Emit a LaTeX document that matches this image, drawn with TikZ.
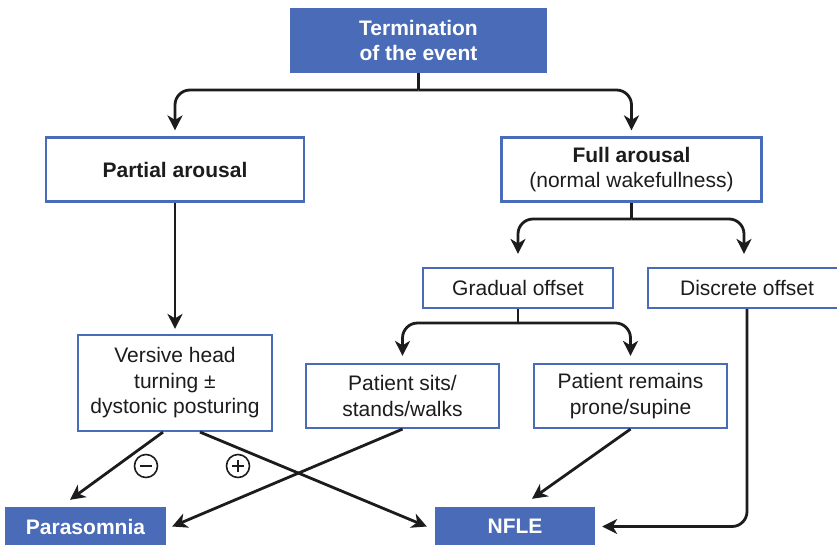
\documentclass[tikz,border=0pt]{standalone}
\usepackage{fontspec}
\setmainfont{Liberation Sans}
\usetikzlibrary{arrows.meta,calc}
\definecolor{boxblue}{RGB}{74,107,183}
\definecolor{ink}{RGB}{28,28,28}
\begin{document}
\begin{tikzpicture}[x=1pt,y=-1pt,
  every node/.style={font=\fontsize{21}{25.5}\selectfont, text=ink, align=center, inner sep=0pt},
  outcome/.style={rectangle, fill=boxblue, text=white, font=\fontsize{21}{25.5}\selectfont\bfseries},
  stage/.style={rectangle, draw=boxblue, line width=2.2pt, fill=white},
  link/.style={draw=ink, line width=2.8pt},
  arrow/.style={link, -{Stealth[length=15pt,width=15pt,inset=4.5pt]}},
  sign/.style={circle, draw=ink, line width=1.6pt, minimum size=23pt},
  bar/.style={draw=ink, line width=2.8pt}]
\useasboundingbox (0,0) rectangle (837,544);

% boxes
\node[outcome, minimum width=257pt, minimum height=65pt] (term) at (418.5,40.5) {Termination\\of the event};
\node[stage, minimum width=258pt, minimum height=64pt, font=\fontsize{21}{25.5}\selectfont\bfseries] (partial) at (175,169.5) {Partial arousal};
\node[stage, minimum width=260pt, minimum height=64pt] (full) at (631.5,169.5) {\textbf{Full arousal}\\(normal wakefullness)};
\node[stage, minimum width=190pt, minimum height=40pt] (gradual) at (518,288) {Gradual offset};
\node[stage, minimum width=198pt, minimum height=40pt] (discrete) at (747,288) {Discrete offset};
\node[stage, minimum width=194pt, minimum height=96pt] (versive) at (175,383) {Versive head\\turning ±\\dystonic posturing};
\node[stage, minimum width=193pt, minimum height=64pt] (sits) at (402.5,396) {Patient sits/\\stands/walks};
\node[stage, minimum width=193pt, minimum height=64pt] (remains) at (630.5,396) {Patient remains\\prone/supine};
\node[outcome, minimum width=161pt, minimum height=39pt] (para) at (85.5,526.5) {Parasomnia};
\node[outcome, minimum width=160pt, minimum height=39pt] (nfle) at (515,526.5) {NFLE};

% branching from the termination box
\coordinate (j1) at (418.5,90);
\draw[link] (term.south) -- (j1);
\draw[arrow, rounded corners=15pt] (j1) -| ([yshift=6pt]partial.north);
\draw[arrow, rounded corners=15pt] (j1) -| ([yshift=6pt]full.north);

% branching from full arousal
\coordinate (j2) at (631.5,219);
\draw[link] (full.south) -- (j2);
\draw[arrow, rounded corners=15pt] (j2) -| ([yshift=13pt]gradual.north);
\draw[arrow, rounded corners=15pt] (j2) -| ([xshift=-3pt,yshift=13pt]discrete.north);

% branching from gradual offset
\coordinate (j3) at (518,323);
\draw[link] (gradual.south) -- (j3);
\draw[arrow, rounded corners=15pt] (j3) -| ([yshift=7pt]sits.north);
\draw[arrow, rounded corners=15pt] (j3) -| ([yshift=7pt]remains.north);

% partial arousal path
\draw[arrow] (partial.south) -- ([yshift=5pt]versive.north);

% outcomes
\draw[arrow] ([xshift=-12pt]versive.south) -- ([xshift=-15.5pt,yshift=7pt]para.north);
\draw[arrow] ([xshift=25pt]versive.south) -- ([xshift=-8pt]nfle.west);
\draw[arrow] (sits.south) -- ([xshift=6pt]para.east);
\draw[arrow] (remains.south) -- ([xshift=17pt,yshift=8pt]nfle.north);
\draw[arrow, rounded corners=15pt] (discrete.south) |- ([xshift=7pt]nfle.east);

% minus and plus marks on the versive branches
\node[sign] (minus) at (146,466) {};
\draw[bar] ([xshift=-6pt]minus.center) -- ([xshift=6pt]minus.center);
\node[sign] (plus) at (238,466) {};
\draw[bar] ([xshift=-6pt]plus.center) -- ([xshift=6pt]plus.center);
\draw[bar] ([yshift=-6pt]plus.center) -- ([yshift=6pt]plus.center);
\end{tikzpicture}
\end{document}
